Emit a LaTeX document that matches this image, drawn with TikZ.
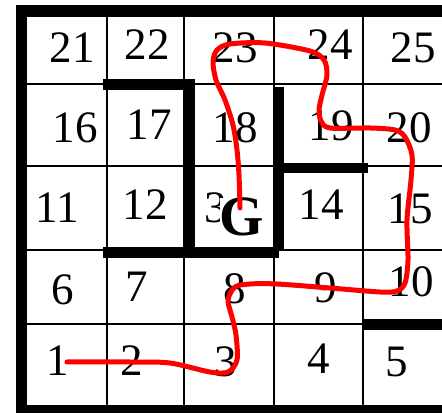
\documentclass[tikz,border=0pt]{standalone}
\usepackage{fontspec}
\setmainfont{Liberation Serif}
\begin{document}
\begin{tikzpicture}[x=1pt,y=-1pt,
  thinline/.style={line width=2pt,black},
  wall/.style={fill=black},
  lbl/.style={inner sep=0pt,font=\fontsize{45}{45}\selectfont},
  goal/.style={inner sep=0pt,fill=white,font=\fontsize{57}{57}\selectfont\bfseries},
  route/.style={red,line width=5pt,line cap=round,line join=round}]
\useasboundingbox (0,0) rectangle (442,414);
% thin grid
\foreach \x in {107,184,274,363} \draw[thinline] (\x,17) -- (\x,405);
\foreach \y in {84,166,250,324} \draw[thinline] (27,\y) -- (442,\y);
% outer border
\fill[wall] (16,5) rectangle (442,17);
\fill[wall] (16,5) rectangle (27,413);
\fill[wall] (16,405) rectangle (442,413);
% inner walls
\fill[wall] (103,79) rectangle (190,90);
\fill[wall] (185,79) rectangle (195,253);
\fill[wall] (273,87) rectangle (284,250);
\fill[wall] (284,163) rectangle (368,173);
\fill[wall] (103,247) rectangle (279,258);
\fill[wall] (363,319) rectangle (442,330);
% labels
\node[lbl] (n21) at (72,48) {21};
\node[lbl] (n22) at (147,45) {22};
\node[lbl] (n23) at (235,48) {23};
\node[lbl] (n24) at (330,45) {24};
\node[lbl] (n25) at (413,48) {25};
\node[lbl] (n16) at (75,128) {16};
\node[lbl] (n17) at (149,125) {17};
\node[lbl] (n18) at (235,128) {18};
\node[lbl] (n19) at (331,126) {19};
\node[lbl] (n20) at (409,128) {20};
\node[lbl] (n11) at (57,208) {11};
\node[lbl] (n12) at (145,205) {12};
\node[lbl] (n13) at (216,208) {3};
\node[lbl] (n14) at (321,205) {14};
\node[lbl] (n15) at (410,209) {15};
\node[lbl] (n6) at (63,290) {6};
\node[lbl] (n7) at (137,287) {7};
\node[lbl] (n8) at (235,289) {8};
\node[lbl] (n9) at (326,288) {9};
\node[lbl] (n10) at (411,282) {10};
\node[lbl] (n1) at (58,361) {1};
\node[lbl] (n2) at (132,361) {2};
\node[lbl] (n3) at (226,362) {3};
\node[lbl] (n4) at (319,359) {4};
\node[lbl] (n5) at (397,362) {5};
\node[goal] (G) at (242,217) {G};
% route
\coordinate (start) at (67,362);
\coordinate (finish) at (240,208);
\draw[route] plot[smooth,tension=0.5] coordinates {
 (start) (130,362) (170,363) (210,372) (228,372) (237,360) (236,335)
 (232,317) (228,300) (235,287) (250,284) (277,284) (330,288) (380,292)
 (397,291) (405,283) (408,260) (407,220) (411,180) (412,155) (405,137)
 (395,130) (370,128) (330,128) (321,121) (319,110) (322,95) (327,75)
 (324,60) (310,51) (265,43) (230,44) (217,50) (213,62) (216,80)
 (225,100) (233,125) (237,150) (239,175) (finish)};
\end{tikzpicture}
\end{document}
